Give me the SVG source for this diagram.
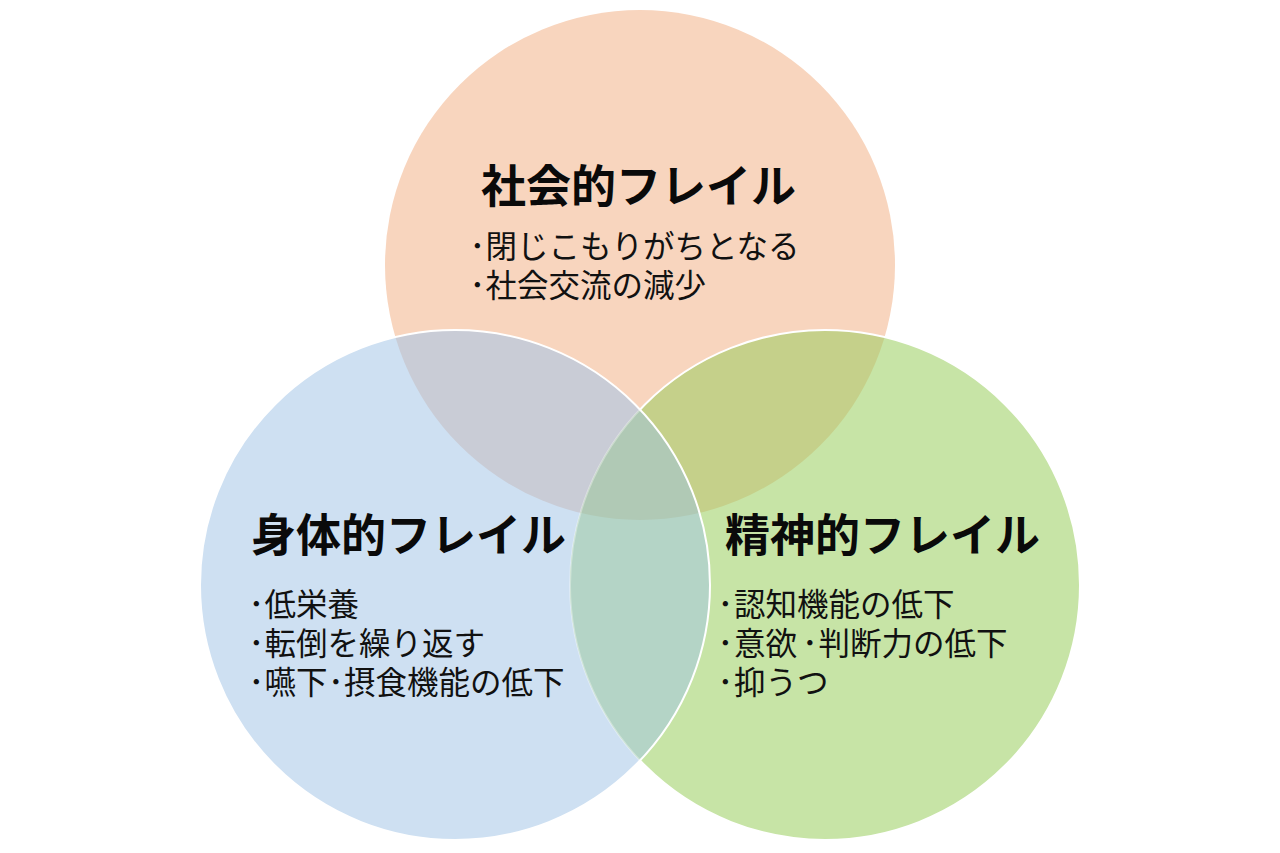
<svg xmlns="http://www.w3.org/2000/svg" width="1280" height="853" viewBox="0 0 1280 853">
<style>
.title{font-family:"Noto Sans CJK JP","Noto Sans CJK SC",sans-serif;font-weight:700;font-size:45px;fill:#0a0a0a}
.item{font-family:"Noto Sans CJK JP","Noto Sans CJK SC",sans-serif;font-weight:400;font-size:31.5px;fill:#111}
</style>
<defs>
<circle id="cT" cx="640" cy="265" r="255"/>
<circle id="cL" cx="455" cy="585" r="255"/>
<circle id="cR" cx="825" cy="585" r="255"/>
<clipPath id="clipT"><use href="#cT"/></clipPath>
<clipPath id="clipL"><use href="#cL"/></clipPath>
<clipPath id="clipR"><use href="#cR"/></clipPath>
<mask id="mR">
<rect width="1280" height="853" fill="#fff"/>
<circle cx="455" cy="585" r="255" fill="#555"/>
</mask>
</defs>
<rect width="1280" height="853" fill="#fff"/>
<g id="node-social">
<use href="#cT" fill="#F8D5BE"/>
</g>
<g id="node-physical">
<use href="#cL" fill="#CEE0F2"/>
</g>
<g id="node-mental">
<use href="#cR" fill="#C7E4A6"/>
</g>
<g id="overlaps">
<g clip-path="url(#clipT)"><use href="#cL" fill="#C9CCD6"/></g>
<g clip-path="url(#clipT)"><use href="#cR" fill="#C5D08A"/></g>
<g clip-path="url(#clipL)"><use href="#cR" fill="#B4D4C6"/></g>
<g clip-path="url(#clipT)"><g clip-path="url(#clipL)"><use href="#cR" fill="#B0C9B5"/></g></g>
</g>
<g id="outlines" fill="none" stroke="#fff" stroke-width="2">
<use href="#cR" mask="url(#mR)"/>
<use href="#cL"/>
</g>
<g id="label-social">
<text class="title" x="481" y="203">社会的フレイル</text>
<text class="item" y="258"><tspan x="469.5">･</tspan><tspan x="485.5">閉じこもりがちとなる</tspan></text>
<text class="item" y="297"><tspan x="469.5">･</tspan><tspan x="485.5">社会交流の減少</tspan></text>
</g>
<g id="label-physical">
<text class="title" x="251" y="552">身体的フレイル</text>
<text class="item" y="616"><tspan x="248.5">･</tspan><tspan x="264.5">低栄養</tspan></text>
<text class="item" y="655"><tspan x="248.5">･</tspan><tspan x="264.5">転倒を繰り返す</tspan></text>
<text class="item" y="694"><tspan x="248.5">･</tspan><tspan x="264.5">嚥下</tspan><tspan x="328">･</tspan><tspan x="344">摂食機能の低下</tspan></text>
</g>
<g id="label-mental">
<text class="title" x="725" y="552">精神的フレイル</text>
<text class="item" y="616"><tspan x="717.5">･</tspan><tspan x="734">認知機能の低下</tspan></text>
<text class="item" y="655"><tspan x="717.5">･</tspan><tspan x="734">意欲</tspan><tspan x="802">･</tspan><tspan x="818.5">判断力の低下</tspan></text>
<text class="item" y="694"><tspan x="717.5">･</tspan><tspan x="734">抑うつ</tspan></text>
</g>
</svg>
